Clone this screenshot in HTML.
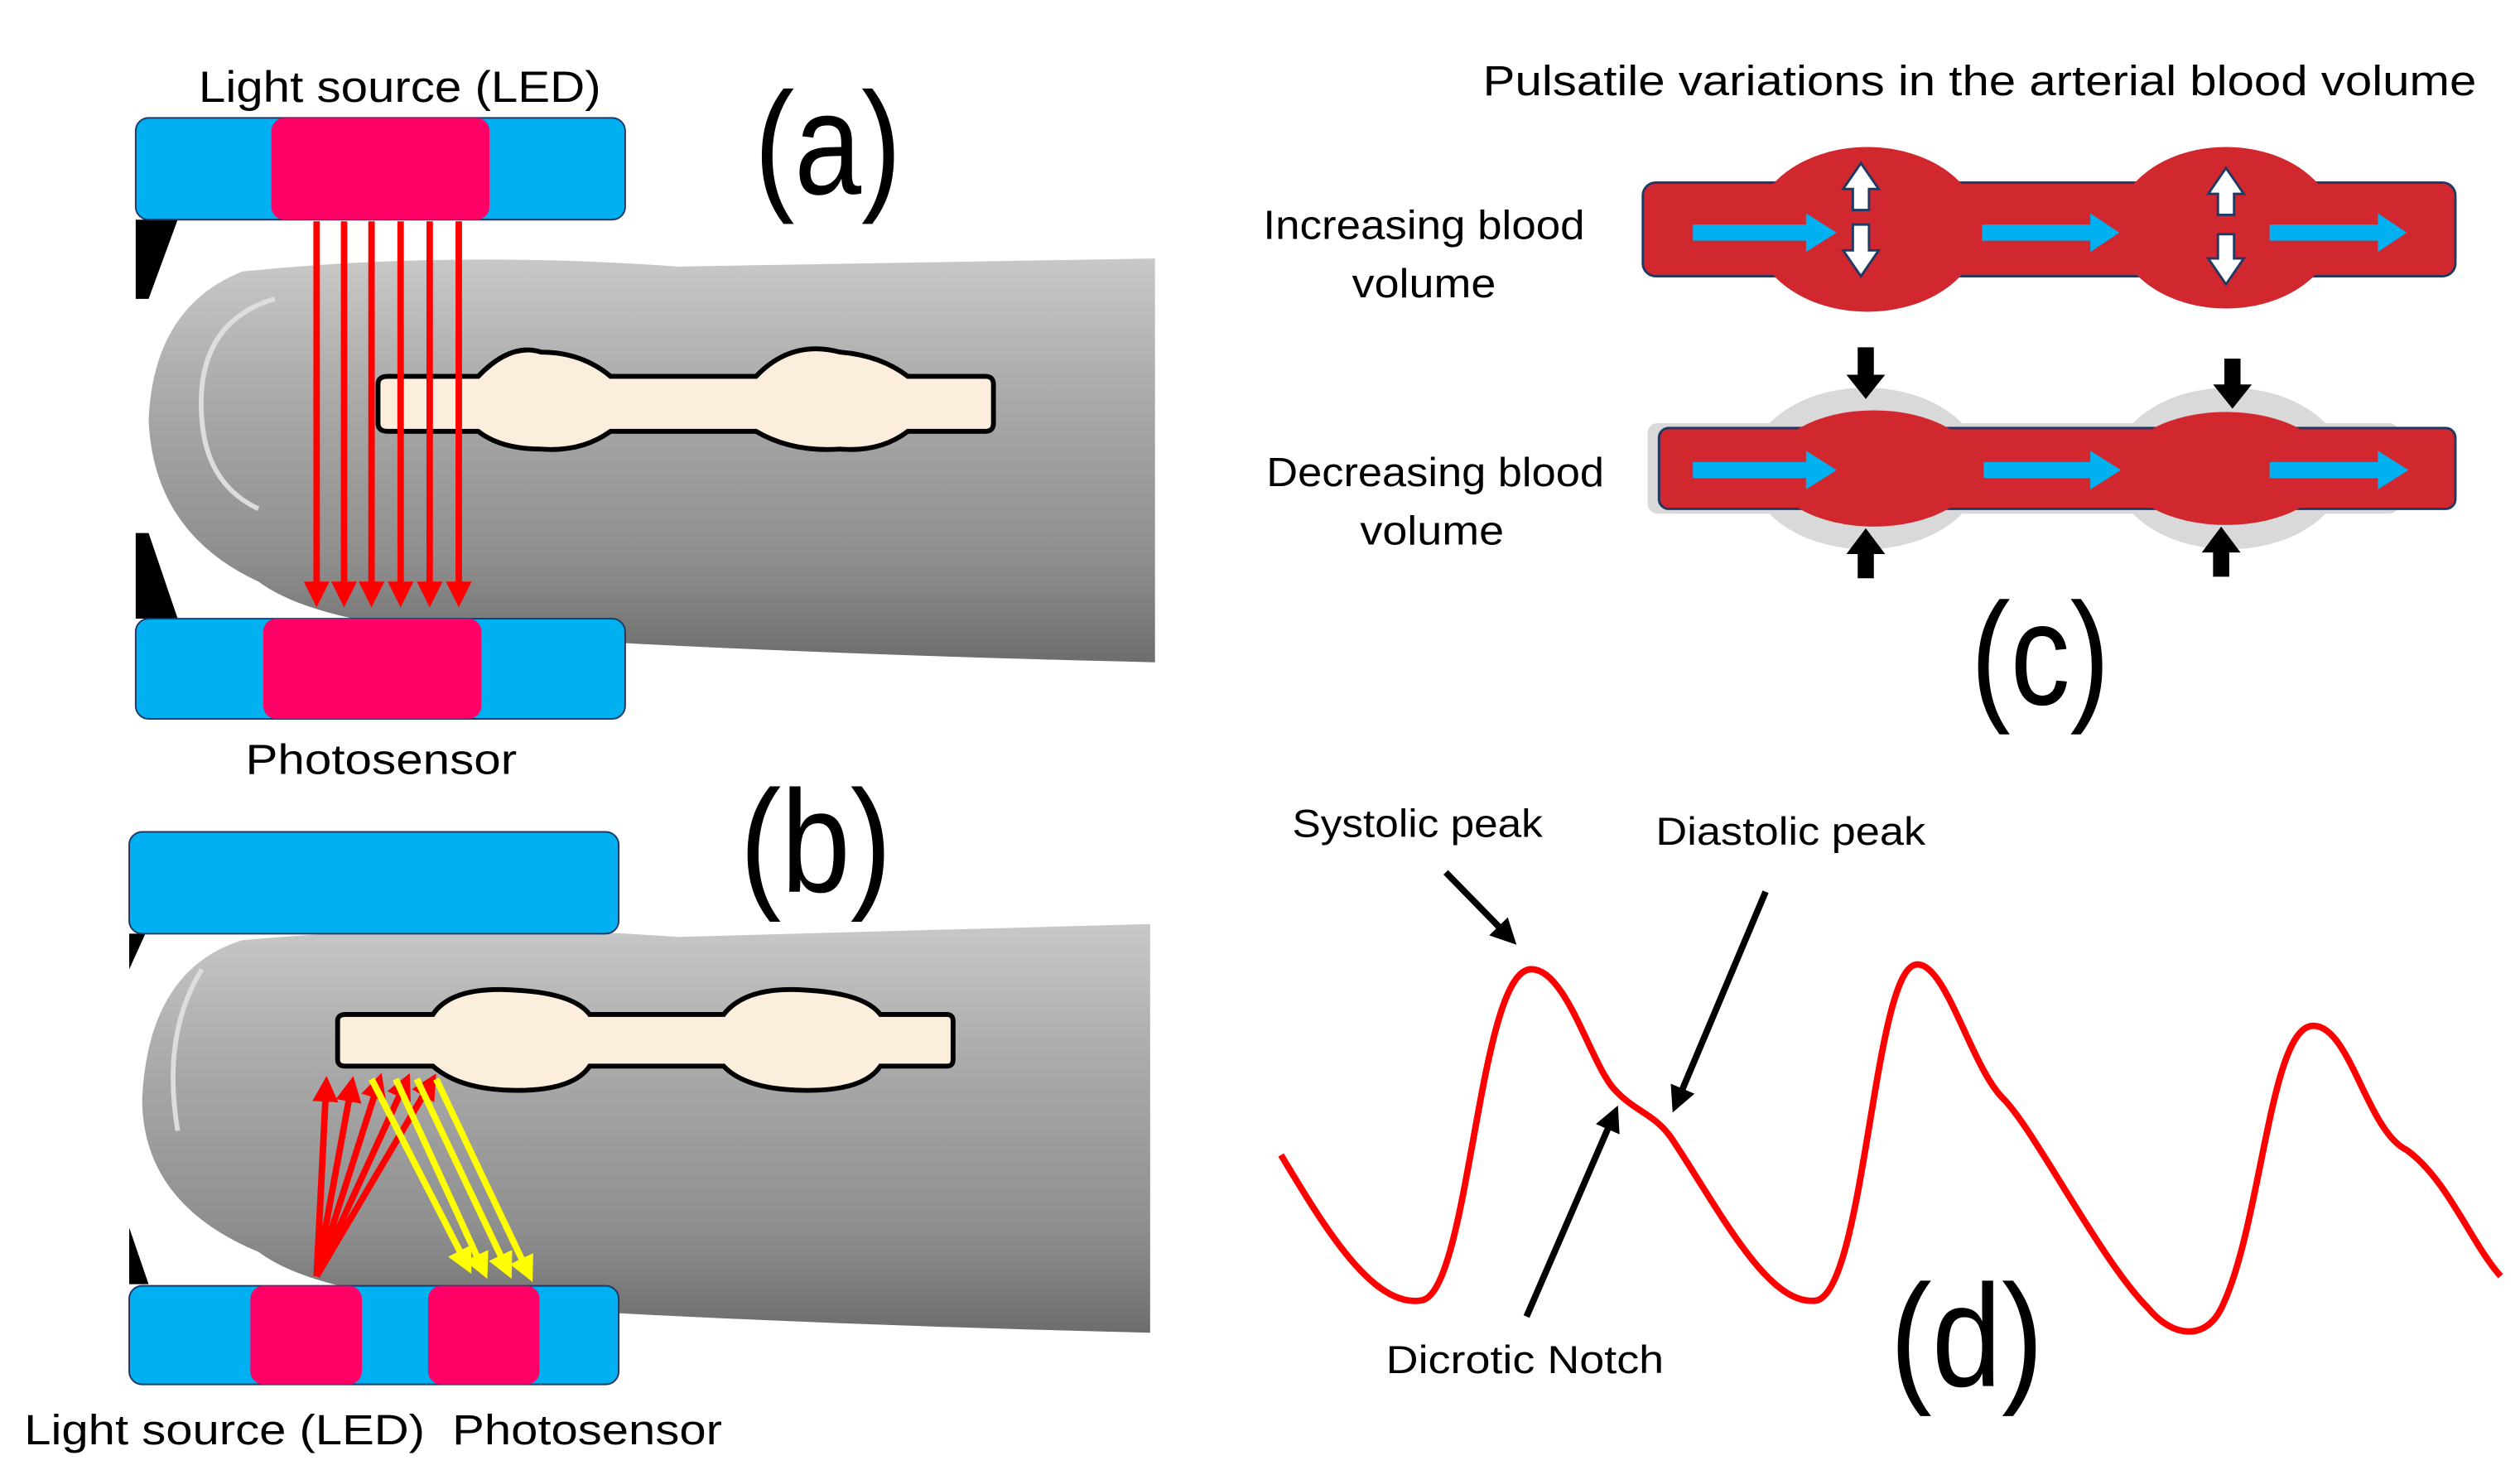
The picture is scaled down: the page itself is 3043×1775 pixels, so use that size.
<!DOCTYPE html>
<html><head><style>html,body{margin:0;padding:0;background:#fff}svg{display:block}</style></head>
<body>
<svg width="3043" height="1775" viewBox="0 0 1560 910" preserveAspectRatio="none" xmlns="http://www.w3.org/2000/svg" font-family="Liberation Sans, sans-serif">
<defs>
<linearGradient id="fg" x1="0" y1="0" x2="0" y2="1">
<stop offset="0" stop-color="#c8c8c8"/><stop offset="0.35" stop-color="#a9a9a9"/><stop offset="0.75" stop-color="#8e8e8e"/><stop offset="1" stop-color="#6d6d6d"/></linearGradient>
<marker id="ar" markerWidth="4" markerHeight="4" refX="3" refY="2" orient="auto" markerUnits="strokeWidth"><path d="M0,0 L4,2 L0,4z" fill="#ff0000"/></marker>
<marker id="ay" markerWidth="4" markerHeight="4" refX="3" refY="2" orient="auto" markerUnits="strokeWidth"><path d="M0,0 L4,2 L0,4z" fill="#ffff00"/></marker>
<marker id="ak" markerWidth="4" markerHeight="4" refX="3" refY="2" orient="auto" markerUnits="strokeWidth"><path d="M0,0 L4,2 L0,4z" fill="#000"/></marker>
</defs>
<rect width="1560" height="910" fill="#fff"/>

<!-- Panel a -->
<path d="M84,136 L110,136 L92,185 L84,185z M84,330 L92,330 L110,383 L84,383z" fill="#000"/>
<path d="M150,168 Q280,155 420,165 L715,160 L715,410 Q500,405 330,395 Q200,390 160,360 Q95,330 92,260 Q95,190 150,168z" fill="url(#fg)"/>
<path d="M170,185 Q120,200 125,260 Q128,300 160,315" fill="none" stroke="#ddd" stroke-width="3"/>
<rect x="84" y="73" width="303" height="63" rx="8" fill="#00b0f0" stroke="#1f3864" stroke-width="1"/>
<rect x="168" y="73" width="135" height="63" rx="8" fill="#ff0066"/>
<rect x="84" y="383" width="303" height="62" rx="8" fill="#00b0f0" stroke="#1f3864" stroke-width="1"/>
<rect x="163" y="383" width="135" height="62" rx="8" fill="#ff0066"/>
<path d="M240,233 L296,233 Q316,212 335,218 Q360,218 378,233 L468,233 Q490,210 520,218 Q545,220 562,233 L610,233 Q615,233 615,238 L615,262 Q615,267 610,267 L562,267 Q545,280 520,278 Q490,280 468,267 L378,267 Q360,280 335,278 Q310,278 296,267 L240,267 Q234,267 234,262 L234,238 Q234,233 240,233z" fill="#fbeedd" stroke="#000" stroke-width="3"/>
<g stroke="#ff0000" stroke-width="4" marker-end="url(#ar)">
<line x1="196" y1="137" x2="196" y2="372"/><line x1="213" y1="137" x2="213" y2="372"/><line x1="230" y1="137" x2="230" y2="372"/><line x1="248" y1="137" x2="248" y2="372"/><line x1="266" y1="137" x2="266" y2="372"/><line x1="284" y1="137" x2="284" y2="372"/></g>
<text x="123" y="63" font-size="27" textLength="249" lengthAdjust="spacingAndGlyphs">Light source (LED)</text>
<text x="467" y="120" font-size="90" textLength="91" lengthAdjust="spacingAndGlyphs">(a)</text>
<text x="152" y="479" font-size="26" textLength="168" lengthAdjust="spacingAndGlyphs">Photosensor</text>

<!-- Panel b -->
<path d="M80,578 L90,578 L80,600z M80,760 L92,795 L80,795z" fill="#000"/>
<path d="M150,582 Q280,570 420,580 L712,572 L712,825 Q500,820 330,810 Q200,805 160,775 Q88,745 88,680 Q92,600 150,582z" fill="url(#fg)"/>
<path d="M125,600 Q100,640 110,700" fill="none" stroke="#ddd" stroke-width="3"/>
<rect x="80" y="515" width="303" height="63" rx="8" fill="#00b0f0" stroke="#1f3864" stroke-width="1"/>
<rect x="80" y="796" width="303" height="61" rx="8" fill="#00b0f0" stroke="#1f3864" stroke-width="1"/>
<rect x="155" y="796" width="69" height="61" rx="8" fill="#ff0066"/>
<rect x="265" y="796" width="69" height="61" rx="8" fill="#ff0066"/>
<path d="M214,628 L268,628 Q280,610 320,613 Q355,615 365,628 L448,628 Q462,610 500,613 Q535,615 545,628 L586,628 Q590,628 590,632 L590,656 Q590,660 586,660 L545,660 Q535,675 500,675 Q462,675 448,660 L365,660 Q355,675 320,675 Q285,675 268,660 L214,660 Q209,660 209,656 L209,632 Q209,628 214,628z" fill="#fbeedd" stroke="#000" stroke-width="3"/>
<g stroke="#ff0000" stroke-width="4" marker-end="url(#ar)">
<line x1="196" y1="790" x2="202" y2="670"/><line x1="196" y1="790" x2="218" y2="670"/><line x1="196" y1="790" x2="235" y2="668"/><line x1="196" y1="790" x2="252" y2="668"/><line x1="196" y1="790" x2="268" y2="668"/></g>
<g stroke="#ffff00" stroke-width="4" marker-end="url(#ay)">
<line x1="230" y1="668" x2="290" y2="785"/><line x1="245" y1="668" x2="300" y2="788"/><line x1="258" y1="668" x2="315" y2="788"/><line x1="270" y1="668" x2="328" y2="790"/></g>
<text x="458" y="552" font-size="90" textLength="94" lengthAdjust="spacingAndGlyphs">(b)</text>
<text x="15" y="894" font-size="26" textLength="248" lengthAdjust="spacingAndGlyphs">Light source (LED)</text>
<text x="280" y="894" font-size="26" textLength="167" lengthAdjust="spacingAndGlyphs">Photosensor</text>

<!-- Panel c -->
<text x="918" y="59" font-size="26" textLength="615" lengthAdjust="spacingAndGlyphs">Pulsatile variations in the arterial blood volume</text>
<text x="782" y="148" font-size="25" textLength="199" lengthAdjust="spacingAndGlyphs">Increasing blood</text>
<text x="837" y="184" font-size="25" textLength="89" lengthAdjust="spacingAndGlyphs">volume</text>
<text x="784" y="301" font-size="25" textLength="209" lengthAdjust="spacingAndGlyphs">Decreasing blood</text>
<text x="842" y="337" font-size="25" textLength="89" lengthAdjust="spacingAndGlyphs">volume</text>
<rect x="1017" y="113" width="503" height="58" rx="8" fill="#d1282f" stroke="#1f3864" stroke-width="1.5"/>
<ellipse cx="1156" cy="142" rx="70" ry="51" fill="#d1282f"/>
<ellipse cx="1378" cy="141" rx="68" ry="50" fill="#d1282f"/>
<ellipse cx="1155" cy="290" rx="72" ry="50" fill="#d9d9d9"/>
<ellipse cx="1380" cy="290" rx="72" ry="50" fill="#d9d9d9"/>
<rect x="1020" y="262" width="465" height="56" rx="6" fill="#d9d9d9"/>
<rect x="1027" y="265" width="493" height="50" rx="6" fill="#d1282f" stroke="#1f3864" stroke-width="1.5"/>
<ellipse cx="1160" cy="290" rx="64" ry="36" fill="#d1282f"/>
<ellipse cx="1378" cy="290" rx="64" ry="35" fill="#d1282f"/>
<g fill="#00b0f0">
<path d="M1048,139 L1118,139 L1118,132 L1137,144 L1118,156 L1118,149 L1048,149z"/>
<path d="M1227,139 L1294,139 L1294,132 L1312,144 L1294,156 L1294,149 L1227,149z"/>
<path d="M1405,139 L1472,139 L1472,132 L1490,144 L1472,156 L1472,149 L1405,149z"/>
<path d="M1048,286 L1118,286 L1118,279 L1137,291 L1118,303 L1118,296 L1048,296z"/>
<path d="M1228,286 L1294,286 L1294,279 L1313,291 L1294,303 L1294,296 L1228,296z"/>
<path d="M1405,286 L1472,286 L1472,279 L1491,291 L1472,303 L1472,296 L1405,296z"/></g>
<g fill="#fff" stroke="#1f3864" stroke-width="1.5">
<path d="M1147,130 L1147,117 L1141,117 L1152,101 L1163,117 L1157,117 L1157,130z"/>
<path d="M1147,139 L1147,155 L1141,155 L1152,171 L1163,155 L1157,155 L1157,139z"/>
<path d="M1373,133 L1373,120 L1367,120 L1378,104 L1389,120 L1383,120 L1383,133z"/>
<path d="M1373,145 L1373,160 L1367,160 L1378,176 L1389,160 L1383,160 L1383,145z"/></g>
<g fill="#000">
<path d="M1150,215 L1160,215 L1160,232 L1167,232 L1155,247 L1143,232 L1150,232z"/>
<path d="M1377,222 L1387,222 L1387,238 L1394,238 L1382,253 L1370,238 L1377,238z"/>
<path d="M1150,358 L1160,358 L1160,343 L1167,343 L1155,327 L1143,343 L1150,343z"/>
<path d="M1370,357 L1380,357 L1380,342 L1387,342 L1375,326 L1363,342 L1370,342z"/></g>
<text x="1220" y="436" font-size="90" textLength="86" lengthAdjust="spacingAndGlyphs">(c)</text>

<!-- Panel d -->
<path d="M793,715 C820,760 850,810 880,805 C910,800 915,600 948,600 C970,600 985,660 1000,675 C1012,688 1025,690 1035,705 C1065,750 1095,810 1125,805 C1155,795 1160,597 1187,597 C1205,597 1220,660 1240,680 C1260,700 1300,780 1330,810 C1345,828 1365,830 1375,810 C1400,760 1405,635 1432,635 C1455,635 1465,700 1490,712 C1515,730 1530,770 1548,790" fill="none" stroke="#ff0000" stroke-width="4"/>
<g stroke="#000" stroke-width="4" marker-end="url(#ak)">
<line x1="895" y1="540" x2="936" y2="582"/>
<line x1="1093" y1="552" x2="1037" y2="685"/>
<line x1="945" y1="815" x2="1000" y2="688"/></g>
<text x="800" y="518" font-size="24" textLength="155" lengthAdjust="spacingAndGlyphs">Systolic peak</text>
<text x="1025" y="523" font-size="24" textLength="167" lengthAdjust="spacingAndGlyphs">Diastolic peak</text>
<text x="858" y="850" font-size="24" textLength="172" lengthAdjust="spacingAndGlyphs">Dicrotic Notch</text>
<text x="1170" y="858" font-size="90" textLength="95" lengthAdjust="spacingAndGlyphs">(d)</text>
</svg>
</body></html>
